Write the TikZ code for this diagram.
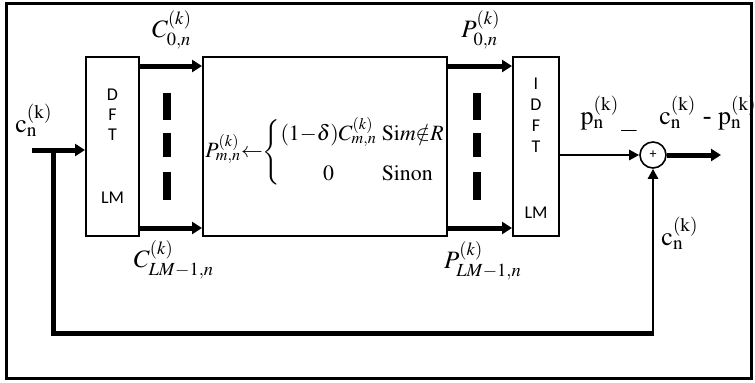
\documentclass[tikz,border=0pt]{standalone}
\usepackage{mathptmx}
\usepackage{fontspec}
\setmainfont{Liberation Serif}
\newfontfamily\lmsans{Carlito}
\usetikzlibrary{arrows.meta,positioning}

\tikzset{
  frame/.style={draw,line width=1.5pt},
  blk/.style={draw,line width=1pt,minimum height=89.5pt,inner sep=0pt},
  bus/.style={line width=2.5pt},
  wire/.style={line width=1.2pt},
  busarrow/.style={bus,-{Triangle[length=5pt,width=6pt]}},
  wirearrow/.style={wire,-{Triangle[length=5pt,width=5pt]}},
  gapbar/.style={fill=black},
  lbl/.style={font=\fontsize{12.5}{14}\selectfont,inner sep=0pt},
  vlbl/.style={font=\fontsize{13}{15}\selectfont,inner sep=0pt},
  sanstxt/.style={font={\lmsans\fontsize{9}{10}\selectfont},align=center,inner sep=0pt}
}

\begin{document}
\begin{tikzpicture}[x=0.5pt,y=-0.5pt,>=Latex]
  \useasboundingbox (0,0) rectangle (755,382);
  \draw[frame] (6,3) rectangle (751,378);

  % blocks
  \node[blk,minimum width=26.5pt] (dft) at (112.5,146.5) {};
  \node[blk,minimum width=122pt] (mid) at (325,146.5) {};
  \node[blk,minimum width=23pt] (idft) at (536,146.5) {};
  \node[sanstxt] at (dft.center) {D\\F\\T\\[21.5pt]LM};
  \node[sanstxt,font={\lmsans\fontsize{9}{10.5}\selectfont}] at ([yshift=-0.8pt]idft.center) {I\\D\\F\\T\\[22.5pt]LM};

  % parallel buses
  \draw[busarrow] ([yshift=-5pt]dft.north east) -- ([yshift=-5pt]mid.north west);
  \draw[busarrow] ([yshift=4.5pt]dft.south east) -- ([yshift=4.5pt]mid.south west);
  \draw[busarrow] ([yshift=-5pt]mid.north east) -- ([yshift=-5pt]idft.north west);
  \draw[busarrow] ([yshift=4.5pt]mid.south east) -- ([yshift=4.5pt]idft.south west);
  \foreach \xc in {167,477}
    \foreach \ya/\yb in {93/120,133/157,172/200}
      \fill[gapbar] (\xc-4,\ya) rectangle (\xc+4,\yb);

  % mapping rule
  \node[font=\fontsize{10.9}{12}\selectfont,inner sep=0pt,anchor=west] (rule) at ([xshift=1.5pt,yshift=-3pt]mid.west)
    {$P^{(k)}_{m,n}{\leftarrow}\!\left\{\begin{array}{@{}c@{\hspace{2.5pt}}l@{}}
      (1{-}\delta)C^{(k)}_{m,n} & \mathrm{Si}m{\notin}R\\[8pt]
      0 & \mathrm{Sinon}
    \end{array}\right.$};

  % summing junction and loop
  \node[circle,draw,line width=0.8pt,minimum size=13pt,inner sep=0pt,
    font={\lmsans\fontsize{7}{8}\selectfont}] (sum) at (653,155) {+};
  \coordinate (in) at (32,150);
  \coordinate (tap) at (53,150);
  \coordinate (out) at (721,155);
  \draw[busarrow] (in) -- (dft.west |- in);
  \draw[bus] (tap) |- (sum.south |- 0,333) coordinate (corner);
  \draw[wirearrow] ([yshift=-1.25pt]corner) -- (sum.south);
  \draw[wirearrow] (idft.east |- sum) -- (sum.west);
  \draw[busarrow] (sum.east) -- (out);

  % labels
  \node[lbl] at (172,30) {$C^{(k)}_{0,n}$};
  \node[lbl] at (174,260) {$C^{(k)}_{LM-1,n}$};
  \node[lbl] at (481,30) {$P^{(k)}_{0,n}$};
  \node[lbl] at (483,261) {$P^{(k)}_{LM-1,n}$};
  \node[vlbl] at (34,120) {$\mathrm{c}^{(\mathrm{k})}_{\mathrm{n}}$};
  \node[vlbl] at (600,113) {$\mathrm{p}^{(\mathrm{k})}_{\mathrm{n}}$};
  \node[vlbl] at (629,131) {$-$};
  \node[vlbl] at (708,113) {$\mathrm{c}^{(\mathrm{k})}_{\mathrm{n}}$ - $\mathrm{p}^{(\mathrm{k})}_{\mathrm{n}}$};
  \node[vlbl] at (680,233) {$\mathrm{c}^{(\mathrm{k})}_{\mathrm{n}}$};
\end{tikzpicture}
\end{document}
